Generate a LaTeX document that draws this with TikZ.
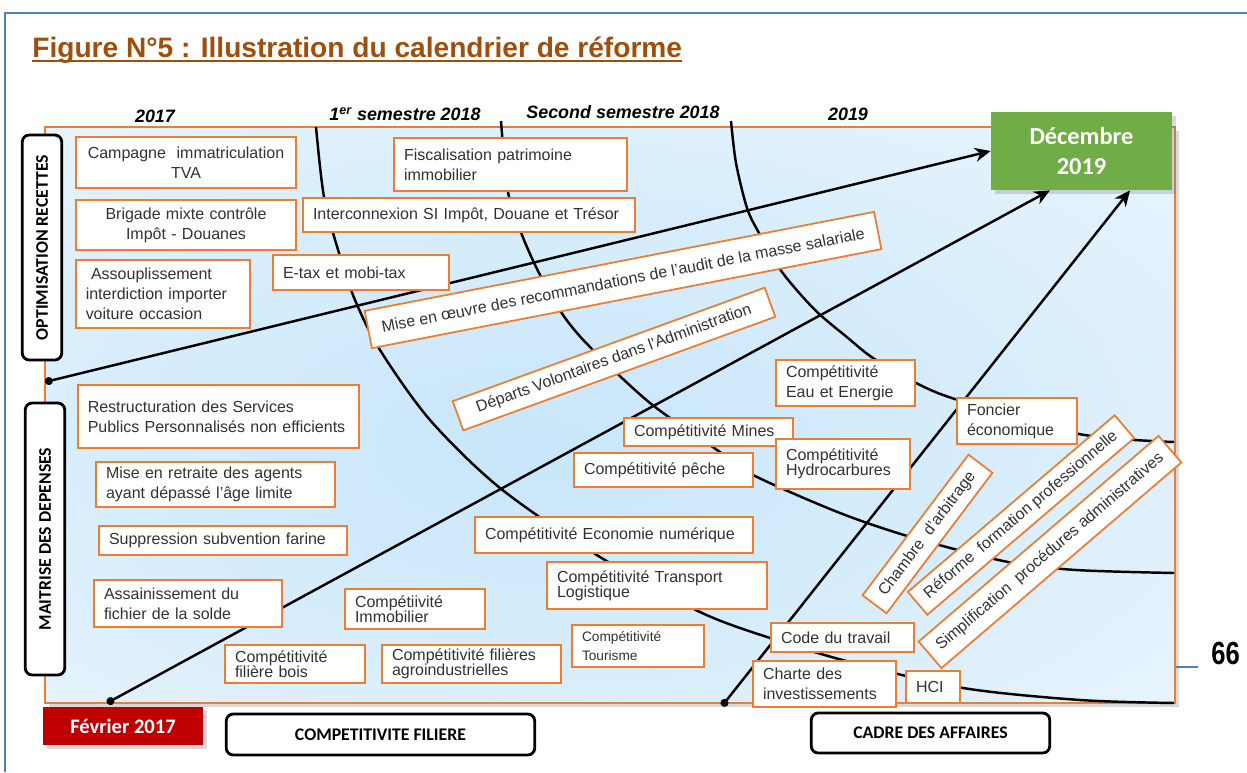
\documentclass[tikz,border=0pt]{standalone}
\usepackage{fontspec}
\setmainfont{Liberation Sans}
\newfontfamily\calibri{Carlito}
\usetikzlibrary{arrows.meta,shadows}

\definecolor{orangebord}{RGB}{237,125,49}
\definecolor{vertdec}{RGB}{112,173,71}
\definecolor{rougefev}{RGB}{192,0,0}
\definecolor{bleupage}{RGB}{79,129,189}
\definecolor{bruntitre}{RGB}{160,78,10}
\definecolor{ciel}{RGB}{200,230,250}
\definecolor{cielpale}{RGB}{240,248,254}
\definecolor{gristexte}{RGB}{50,50,50}

\pgfdeclareradialshading{fondbleu}{\pgfpoint{-4bp}{-3bp}}{color(0bp)=(ciel); color(20bp)=(ciel!60!cielpale); color(45bp)=(cielpale); color(60bp)=(white!60!cielpale)}

\newcommand{\textboite}{\fontsize{9.1}{11.4}\selectfont}
\newcommand{\textserre}{\fontsize{9.1}{8.6}\selectfont}

\tikzset{
  boite/.style={draw=orangebord, line width=1pt, fill=white, text=gristexte, font=\textboite, inner xsep=0.2cm, inner ysep=0pt, align=left},
  etiquette/.style={draw, line width=1.6pt, rounded corners=4pt, fill=white, font=\calibri\bfseries\fontsize{10.1}{12}\selectfont, inner sep=0pt},
  annee/.style={font=\bfseries\itshape\fontsize{10.2}{12}\selectfont},
  ombre/.style={drop shadow={shadow xshift=2pt, shadow yshift=-2pt, opacity=0.3}},
  trait/.style={line width=1.4pt},
  fleche/.style={trait, {Circle[length=4.5pt]}-{Stealth[length=9pt,width=8pt]}},
}

\begin{document}
\begin{tikzpicture}
  \useasboundingbox (0,0) rectangle (24.94,-15.44);
  % page
  \draw[bleupage, line width=1.1pt] (0.1,-15.44) -- (0.1,-0.26) -- (24.94,-0.26);
  \draw[bleupage, line width=0.6pt] (23.5,-13.34) -- (23.96,-13.34);
  \node[font=\bfseries\fontsize{18.2}{20}\selectfont, xscale=0.8] (page) at (24.51,-13.07) {66};
  % titre
  \node[anchor=base west, text=bruntitre, font=\bfseries\fontsize{16}{18}\selectfont, inner sep=0pt] (titre) at (0.64,-1.14) {Figure N°5 : Illustration du calendrier de réforme};
  \draw[bruntitre, line width=1.1pt] ([yshift=-0.08cm]titre.base west) -- ([yshift=-0.08cm]titre.base east);

  % cadre du calendrier
  \path[draw=orangebord, line width=1pt, shading=fondbleu, ombre] (0.9,-2.54) rectangle (23.5,-14.06);
  \node[annee] (an17) at (3.1,-2.32) {2017};
  \node[annee] (sem1) at (8.1,-2.28) {1\textsuperscript{er} semestre 2018};
  \node[annee] (sem2) at (12.46,-2.24) {Second semestre 2018};
  \node[annee] (an19) at (16.96,-2.28) {2019};

  % arcs des periodes
  \draw[trait] plot[smooth] coordinates {(6.32,-2.54) (6.48,-3.94) (6.78,-5.06) (7.1,-6.0) (7.6,-7.0) (8.6,-8.4) (10.0,-9.76) (12.0,-11.14) (14.0,-12.24) (15.4,-12.76) (17.0,-13.24) (19.26,-13.76) (21.6,-14.0) (23.48,-14.06)};
  \draw[trait] plot[smooth] coordinates {(10.02,-2.42) (10.16,-3.84) (10.44,-4.7) (10.8,-5.5) (11.26,-6.3) (11.8,-6.94) (13.0,-8.06) (14.34,-9.0) (15.06,-9.5) (16.8,-10.26) (18.28,-10.76) (20.16,-11.24) (21.52,-11.4) (23.48,-11.46)};
  \draw[trait] plot[smooth] coordinates {(14.62,-2.42) (14.72,-3.26) (14.94,-4.16) (15.18,-4.66) (15.64,-5.44) (16.3,-6.2) (16.96,-6.76) (17.46,-7.16) (18.32,-7.66) (19.16,-8.0) (21.58,-8.68) (23.48,-8.84)};

  % echeances
  \node[fill=vertdec, text=white, font=\calibri\bfseries\fontsize{13.9}{17}\selectfont, align=center, minimum width=3.62cm, minimum height=1.56cm, ombre] (dec) at (21.63,-3.02) {Décembre\\2019};
  \node[fill=rougefev, text=white, font=\calibri\bfseries\fontsize{11.7}{14}\selectfont, minimum width=3.2cm, minimum height=0.76cm, ombre] (fev) at (2.46,-14.52) {Février 2017};

  \coordinate (depR) at (0.9,-7.64);
  \coordinate (depF) at (2.14,-14.06);
  \coordinate (depC) at (14.44,-14.12);
  \draw[fleche] (depR) -- (dec.west);
  \draw[fleche] (depF) -- ([xshift=-0.63cm]dec.south);
  \draw[fleche] (depC) -- ([xshift=0.97cm]dec.south);

  % axes
  \node[etiquette, rotate=90, minimum width=4.5cm, minimum height=0.79cm] (optim) at (0.84,-4.95) {OPTIMISATION RECETTES};
  \node[etiquette, rotate=90, minimum width=5.44cm, minimum height=0.79cm] (maitrise) at (0.9,-10.78) {MAITRISE DES DEPENSES};
  \node[etiquette, minimum width=6.17cm, minimum height=0.82cm] (filiere) at (7.61,-14.69) {COMPETITIVITE FILIERE};
  \node[etiquette, minimum width=4.77cm, minimum height=0.8cm] (affaires) at (18.61,-14.66) {CADRE DES AFFAIRES};

  % optimisation recettes
  \node[boite, align=center, text width=4.01cm, minimum height=1.02cm] (campagne) at (3.72,-3.25) {Campagne\ \ immatriculation\\TVA};
  \node[boite, align=center, text width=4.01cm, minimum height=1.0cm] (brigade) at (3.72,-4.5) {Brigade mixte contrôle\\Impôt - Douanes};
  \node[boite, text width=3.09cm, minimum height=1.36cm] (assoupl) at (3.26,-5.88) {\ Assouplissement\\interdiction importer\\voiture occasion};
  \node[boite, text width=4.26cm, minimum height=1.06cm] (fiscal) at (10.21,-3.29) {Fiscalisation patrimoine\\immobilier};
  \node[boite, text width=6.24cm, minimum height=0.68cm] (interco) at (9.38,-4.3) {Interconnexion SI Impôt, Douane et Trésor};
  \node[boite, text width=3.12cm, minimum height=0.7cm] (etax) at (7.22,-5.45) {E-tax et mobi-tax};
  \node[boite, rotate=11, minimum width=10.38cm, minimum height=0.76cm] (masse) at (12.46,-5.6) {Mise en œuvre des recommandations de l'audit de la masse salariale};
  \node[boite, rotate=20, minimum width=6.64cm, minimum height=0.62cm] (departs) at (12.28,-7.18) {Départs Volontaires dans l'Administration};

  % maitrise des depenses
  \node[boite, text width=5.23cm, minimum height=1.26cm] (restruct) at (4.37,-8.33) {Restructuration des Services\\Publics Personnalisés non efficients};
  \node[boite, text width=4.38cm, minimum height=0.9cm] (retraite) at (4.31,-9.69) {Mise en retraite des agents\\ayant dépassé l'âge limite};
  \node[boite, text width=4.56cm, minimum height=0.58cm] (farine) at (4.46,-10.81) {Suppression subvention farine};
  \node[boite, text width=3.36cm, minimum height=0.94cm] (solde) at (3.76,-12.07) {Assainissement du\\fichier de la solde};

  % competitivite filiere
  \node[boite, font=\textserre, text width=2.4cm, minimum height=0.8cm] (immo) at (8.3,-12.18) {Compétiivité\\Immobilier};
  \node[boite, font=\textserre, text width=2.4cm, minimum height=0.76cm] (bois) at (5.9,-13.28) {Compétitivité\\filière bois};
  \node[boite, font=\textserre, text width=3.18cm, minimum height=0.76cm] (agro) at (9.43,-13.28) {Compétitivité filières\\agroindustrielles};
  \node[boite, text width=2.98cm, minimum height=0.56cm] (mines) at (14.17,-8.64) {Compétitivité Mines};
  \node[boite, text width=3.18cm, minimum height=0.68cm] (peche) at (13.27,-9.4) {Compétitivité pêche};
  \node[boite, text width=5.16cm, minimum height=0.72cm] (numerique) at (12.28,-10.7) {Compétitivité Economie numérique};
  \node[boite, font=\textserre, text width=4.0cm, minimum height=0.94cm] (transport) at (13.14,-11.71) {Compétitivité Transport\\Logistique};
  \node[boite, font=\fontsize{7.8}{10.5}\selectfont, text width=2.24cm, minimum height=0.84cm] (tourisme) at (12.76,-12.92) {Compétitivité\\Tourisme};
  \node[boite, text width=2.38cm, minimum height=0.92cm] (eau) at (16.91,-7.66) {Compétitivité\\Eau et Energie};
  \node[boite, font=\textserre, text width=2.28cm, minimum height=1.0cm] (hydro) at (16.86,-9.28) {Compétitivité\\Hydrocarbures};

  % cadre des affaires
  \node[boite, text width=2.0cm, minimum height=0.92cm] (foncier) at (20.34,-8.42) {Foncier\\économique};
  \node[boite, text width=2.46cm, minimum height=0.58cm] (code) at (16.85,-12.75) {Code du travail};
  \node[boite, text width=2.46cm, minimum height=0.92cm] (charte) at (16.49,-13.68) {Charte des\\investissements};
  \node[boite, text width=0.68cm, minimum height=0.64cm] (hci) at (18.66,-13.74) {HCI};
  \node[boite, rotate=53, minimum width=3.52cm, minimum height=0.6cm] (chambre) at (18.55,-10.68) {Chambre\ \ d'arbitrage};
  \node[boite, rotate=40.5, minimum width=5.44cm, minimum height=0.6cm] (reforme) at (20.42,-10.3) {Réforme\ \ formation professionnelle};
  \node[boite, rotate=40.6, minimum width=6.32cm, minimum height=0.7cm] (simplif) at (21.0,-11.04) {Simplification\ \ procédures administratives};
\end{tikzpicture}
\end{document}
